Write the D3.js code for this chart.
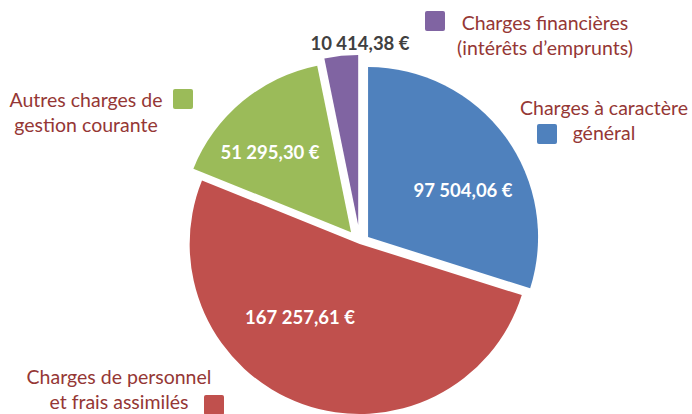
<!DOCTYPE html>
<html>
<head>
<meta charset="utf-8">
<script src="https://cdn.jsdelivr.net/npm/d3@7"></script>
<style>
  html, body { margin: 0; padding: 0; background: #fff; }
  svg { display: block; font-family: Lato, "Open Sans", sans-serif; }
</style>
</head>
<body>
<svg id="chart" width="692" height="414"></svg>
<script>
// data
const categories = [
  "Charges à caractère général",
  "Charges de personnel et frais assimilés",
  "Autres charges de gestion courante",
  "Charges financières (intérêts d’emprunts)"
];
const values = [97504.06, 167257.61, 51295.30, 10414.38];
const valueLabels = ["97 504,06 €", "167 257,61 €", "51 295,30 €", "10 414,38 €"];
const legendLines = [
  ["Charges à caractère", "général"],
  ["Charges de personnel", "et frais assimilés"],
  ["Autres charges de", "gestion courante"],
  ["Charges financières", "(intérêts d’emprunts)"]
];
const colors = ["#4F81BD", "#C0504D", "#9BBB59", "#8064A2"];

const svg = d3.select("#chart");
const cx = 360, cy = 243, radius = 170;
const explode = [10, 1, 14, 18]; // each slice pulled out a bit

const pie = d3.pie().sort(null).value(d => d)(values);
const arc = d3.arc().innerRadius(0).outerRadius(radius);

const offset = (d, i) => {
  const a = (d.startAngle + d.endAngle) / 2;
  return [Math.sin(a) * explode[i], -Math.cos(a) * explode[i]];
};

const slices = svg.append("g").attr("transform", `translate(${cx},${cy})`);

slices.selectAll("path").data(pie).enter().append("path")
  .attr("d", arc)
  .attr("fill", (d, i) => colors[i])
  .attr("transform", (d, i) => `translate(${offset(d, i)})`);

// value labels (label positions tuned to match the picture)
const labelPos = [[463, 191], [300, 318], [270, 153], [360, 44]];
const labelColor = ["#fff", "#fff", "#fff", "#404040"];

svg.append("g").selectAll("text").data(valueLabels).enter().append("text")
  .attr("x", (d, i) => labelPos[i][0])
  .attr("y", (d, i) => labelPos[i][1])
  .attr("dy", "0.35em")
  .attr("text-anchor", "middle")
  .attr("font-weight", "bold")
  .attr("font-size", 18.5)
  .attr("fill", (d, i) => labelColor[i])
  .text(d => d);

// legend, laid out around the pie like the original
const legendText = [[604, 108], [119, 377], [86, 100], [545, 23]];
const legendBox = [[537, 124], [204, 395], [173, 89], [425, 11]];
const lineH = 25;

const legend = svg.append("g");
legendLines.forEach((lines, i) => {
  legend.append("rect")
    .attr("x", legendBox[i][0]).attr("y", legendBox[i][1])
    .attr("width", 20).attr("height", 20).attr("rx", 2)
    .attr("fill", colors[i]);
  const t = legend.append("text")
    .attr("text-anchor", "middle")
    .attr("font-size", 19.5)
    .attr("fill", "#953735");
  lines.forEach((ln, j) => {
    t.append("tspan")
      .attr("x", legendText[i][0])
      .attr("y", legendText[i][1] + j * lineH)
      .attr("dy", "0.35em")
      .text(ln);
  });
});
</script>
</body>
</html>
